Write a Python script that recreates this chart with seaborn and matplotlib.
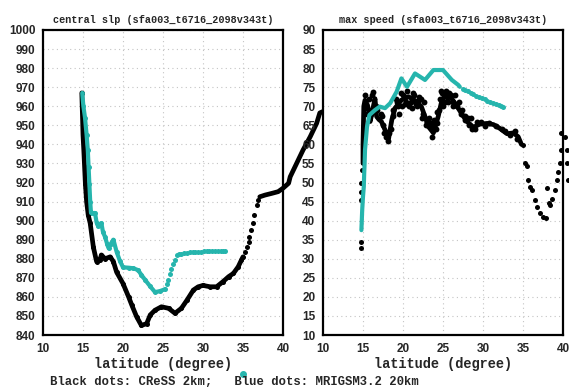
import matplotlib
matplotlib.use('Agg')
import matplotlib.pyplot as plt
import seaborn as sns

# CReSS 2km, central slp (dense track, sparse jump, dense track)
cress_slp_lat_a = [14.85, 14.9, 14.95, 15.0, 15.1, 15.2, 15.3, 15.45, 15.65, 15.9, 16.3, 16.7,
                   17.1, 17.3, 17.75, 18.4, 18.8, 19.2, 20.0, 20.7, 21.1, 21.7, 22.3, 22.96,
                   23.4, 24.0, 24.8, 25.7, 26.5, 27.3, 28.0, 28.8, 29.4, 30.0, 30.9, 31.7,
                   32.5, 33.2, 33.8, 34.4, 34.8, 35.0]
cress_slp_a = [967, 960, 953, 945, 937, 928, 919, 910, 903, 898.6, 886, 878.5,
               879.3, 882, 880, 881, 878.5, 873, 867, 860, 855.7, 849.6, 845, 846,
               850.5, 853, 854.8, 854, 851.4, 854, 858.3, 863.6, 865.3, 866, 865.3, 865.3,
               868, 870.6, 872.3, 875.8, 879.3, 881]
cress_slp_lat_b = [35.25, 35.5, 35.7, 35.8, 36.0, 36.2, 36.4, 36.7, 36.9]
cress_slp_b = [883.7, 886.3, 889, 891.5, 895, 898.6, 903, 908.2, 910.8]
cress_slp_lat_c = [37.1, 37.75, 38.6, 39.4, 40.0, 40.7, 40.9, 41.7, 42.5, 43.4, 44.2, 44.6, 45.4]
cress_slp_c = [912.5, 913.4, 914.3, 915.2, 917, 919.6, 923, 930, 937, 944, 951, 956.5, 958]

# MRIGSM3.2 20km, central slp
mri_slp_lat_a = [14.9, 15.05, 15.25, 15.45, 15.6, 15.7, 15.8, 15.9, 16.0, 16.3, 16.5, 16.7,
                 16.9, 17.3, 17.5, 17.75, 18.0, 18.2, 18.5, 18.8, 19.2, 19.6, 20.0, 20.7,
                 21.3, 21.9, 22.3, 22.75, 23.4, 24.0, 24.6, 25.25]
mri_slp_a = [967, 960, 954, 945, 937, 928, 919, 910, 904, 904, 904, 899,
             897, 898.6, 894, 891.5, 888, 885.5, 888, 890, 883.7, 879, 875.5, 875.3,
             875, 874, 871.5, 869, 865.5, 862.5, 863, 864]
mri_slp_lat_b = [25.45, 25.65, 25.85, 26.05, 26.25, 26.45, 26.7, 26.95, 27.3, 27.65, 28.0,
                 28.35, 28.7, 29.05, 29.4, 29.75, 30.1, 30.45, 30.8, 31.15, 31.5, 31.85,
                 32.2, 32.55, 32.75]
mri_slp_b = [866.5, 869, 872, 874.5, 877, 879.5, 881.8, 882.3, 882.6, 882.9, 883.1,
             883.3, 883.5, 883.6, 883.7, 883.8, 883.9, 883.9, 884, 884, 884, 884,
             884, 884, 884]

# CReSS 2km, max speed
cress_spd_lat_start = [14.8, 14.8, 14.75, 14.8, 14.8, 14.85]
cress_spd_start = [32.8, 34.5, 45.4, 47.6, 49.8, 53.3]
cress_spd_lat_core = [15.0, 15.0, 15.05, 15.1, 15.25, 15.6, 15.9, 16.2, 16.5, 16.7, 17.0, 17.3,
                      17.75, 18.2, 18.6, 19.0, 19.8, 20.7, 21.5, 22.3, 22.8, 23.2, 23.8, 24.4,
                      24.8, 25.25, 26.1, 26.9, 27.5, 28.0, 28.8, 29.6, 30.5, 31.3, 32.1, 33.0,
                      33.8, 34.4, 34.8]
cress_spd_core = [55, 60, 65, 70, 71.6, 70, 66, 69, 72, 67.3, 66.5, 66,
                  63.8, 61.5, 66.4, 69.5, 71.6, 72.5, 71.5, 69.9, 67, 64.6, 63, 67.3,
                  71, 73, 72, 69.5, 67.5, 66, 64.5, 65.3, 65.5, 65.2, 64.2, 62.8,
                  63, 62, 60]
cress_spd_lat_cloud = [15.3, 15.5, 16.3, 16.6, 17.2, 17.5, 17.9, 18.1, 18.3, 18.8, 19.3, 19.5,
                       20.0, 20.3, 20.5, 21.0, 21.2, 21.8, 22.0, 22.5, 22.6, 23.0, 23.5, 23.6,
                       23.9, 24.1, 24.5, 24.7, 25.0, 25.5, 25.8, 26.3, 26.5, 27.0, 27.2, 27.7,
                       28.3, 28.5, 29.0, 29.3,
                       15.4, 15.7, 16.0, 16.1, 16.8, 17.4, 17.6, 18.0, 18.5, 18.7, 19.1, 19.4,
                       19.7, 19.9, 20.2, 20.4, 20.8, 21.1, 21.4, 21.6, 21.9, 22.2, 22.4, 22.9,
                       23.3, 23.7, 24.2, 24.3, 24.6, 24.9, 25.2, 25.4, 25.6, 26.0, 26.2, 26.7,
                       27.4, 27.8, 28.1, 28.6, 29.8, 30.2, 30.8, 31.6, 32.4, 32.8, 33.4, 34.0,
                       34.2]
cress_spd_cloud = [73, 68, 73.8, 70, 68, 65, 62, 60.8, 63, 69, 71, 68,
                   73, 70.5, 74, 71, 73.5, 70, 72.5, 68, 71, 66, 65.5, 62,
                   66.5, 64, 69, 74, 70, 72.5, 73.5, 70, 73, 71, 68, 66.5,
                   65, 67, 64, 66,
                   70.5, 72, 68, 73, 69, 67.5, 63, 62.5, 64, 67.5, 72, 70,
                   73.5, 70, 72.5, 71, 70, 69.5, 73, 70.5, 71.5, 72, 67, 65,
                   67, 64.5, 68.5, 65.5, 72, 73.5, 71, 74, 71, 73, 71, 70,
                   69, 67.5, 66.8, 64, 65.8, 64.8, 65.7, 64.8, 64, 63.5, 62.5, 63.4,
                   61.5]
cress_spd_lat_tail = [35.0, 35.25, 35.5, 35.6, 35.9, 36.1, 36.5, 36.7, 37.1, 37.5, 37.9, 38.0,
                      38.2, 38.4, 38.6, 39.0, 39.2, 39.4, 39.6, 39.8, 39.8, 40.25, 40.5, 40.5,
                      40.6]
cress_spd_tail = [59.8, 55, 54.2, 50.7, 48.7, 48, 45.4, 43.6, 41.9, 41, 40.6, 48.5,
                  44.5, 44, 45.8, 48, 50.7, 52.8, 55, 58.5, 62.9, 62, 58.5, 55,
                  50.7]

# MRIGSM3.2 20km, max speed
mri_spd_lat_a = [14.8, 14.9, 15.0, 15.1, 15.15, 15.2, 15.25, 15.5, 15.8, 16.5, 17.1, 17.75,
                 18.4, 19.2, 19.8, 20.5, 21.5, 22.75, 23.8, 25.0, 26.1, 26.9, 27.1]
mri_spd_a = [37.5, 42.8, 46.3, 48.9, 52.4, 55, 58.5, 64.6, 67.7, 69, 69.9, 69.5,
             70.8, 73.8, 77.3, 75.1, 78.6, 76.9, 79.5, 79.5, 76.9, 75.6, 75.1]
mri_spd_lat_b = [27.45, 27.8, 28.1, 28.45, 28.8, 29.15, 29.5, 29.85, 30.2, 30.55, 30.9,
                 31.25, 31.6, 31.95, 32.3, 32.55]
mri_spd_b = [74.6, 74.2, 73.9, 73.5, 73.1, 72.8, 72.5, 72.1, 71.8, 71.5, 71.1,
             70.8, 70.5, 70.2, 70.0, 69.8]

slp_ticks = list(range(840, 1001, 10))
spd_ticks = list(range(10, 91, 5))
lat_ticks = list(range(10, 41, 5))

black = 'black'
cyan = '#26b5ad'
mono = ['Liberation Mono', 'DejaVu Sans Mono']

sns.set_style('white')
plt.rcParams['font.family'] = ['Liberation Sans', 'DejaVu Sans']
plt.rcParams['font.weight'] = 'bold'

fig = plt.figure(figsize=(5.69, 3.87), dpi=100)
ax1 = fig.add_axes([43 / 569, 1 - 335 / 387, 240 / 569, 305 / 387])
ax2 = fig.add_axes([323 / 569, 1 - 335 / 387, 240 / 569, 305 / 387])


def track(ax, x, y, color, lw):
    sns.lineplot(x=x, y=y, sort=False, estimator=None, color=color, lw=lw,
                 solid_capstyle='round', ax=ax)


def dots(ax, x, y, color, s=13):
    sns.scatterplot(x=x, y=y, color=color, s=s, linewidth=0, ax=ax)


# left: central slp
track(ax1, cress_slp_lat_a, cress_slp_a, black, 3.4)
dots(ax1, cress_slp_lat_a, cress_slp_a, black)
dots(ax1, cress_slp_lat_b, cress_slp_b, black)
track(ax1, cress_slp_lat_c, cress_slp_c, black, 3.4)
track(ax1, mri_slp_lat_a, mri_slp_a, cyan, 3.0)
dots(ax1, mri_slp_lat_a, mri_slp_a, cyan)
dots(ax1, mri_slp_lat_b, mri_slp_b, cyan)

# right: max speed
dots(ax2, cress_spd_lat_start, cress_spd_start, black)
track(ax2, cress_spd_lat_core, cress_spd_core, black, 3.4)
dots(ax2, cress_spd_lat_cloud, cress_spd_cloud, black, 18)
dots(ax2, cress_spd_lat_tail, cress_spd_tail, black)
track(ax2, mri_spd_lat_a, mri_spd_a, cyan, 3.0)
dots(ax2, mri_spd_lat_b, mri_spd_b, cyan)

for ax, ticks, title in [(ax1, slp_ticks, 'central slp (sfa003_t6716_2098v343t)'),
                         (ax2, spd_ticks, 'max speed (sfa003_t6716_2098v343t)')]:
    for art in ax.lines + ax.collections:
        art.set_clip_on(False)
    ax.set_xlim(10, 40)
    ax.set_ylim(ticks[0], ticks[-1])
    ax.set_xticks(lat_ticks)
    ax.set_yticks(ticks)
    ax.tick_params(direction='out', length=4, width=1.2, pad=1.5, labelsize=8.5)
    ax.grid(True, color='#c4c4c4', lw=0.8, ls=(0, (1, 3)))
    for sp in ax.spines.values():
        sp.set_linewidth(1.6)
        sp.set_color('black')
    ax.set_xlabel('latitude (degree)', family=mono, fontsize=9.8, fontweight='bold', labelpad=2)
    ax.set_ylabel('')
    ax.set_title(title, family=mono, fontsize=7.3, fontweight='bold', pad=5)

fig.text(50 / 569, 1 - 382 / 387, 'Black dots: CReSS 2km;   Blue dots: MRIGSM3.2 20km',
         family=mono, fontsize=8.8, fontweight='bold', va='center')
fig.add_artist(plt.Line2D([243 / 569], [1 - 374 / 387], marker='o', ms=4,
                          color=cyan, lw=0, transform=fig.transFigure))

fig.savefig('out.png', dpi=100)
